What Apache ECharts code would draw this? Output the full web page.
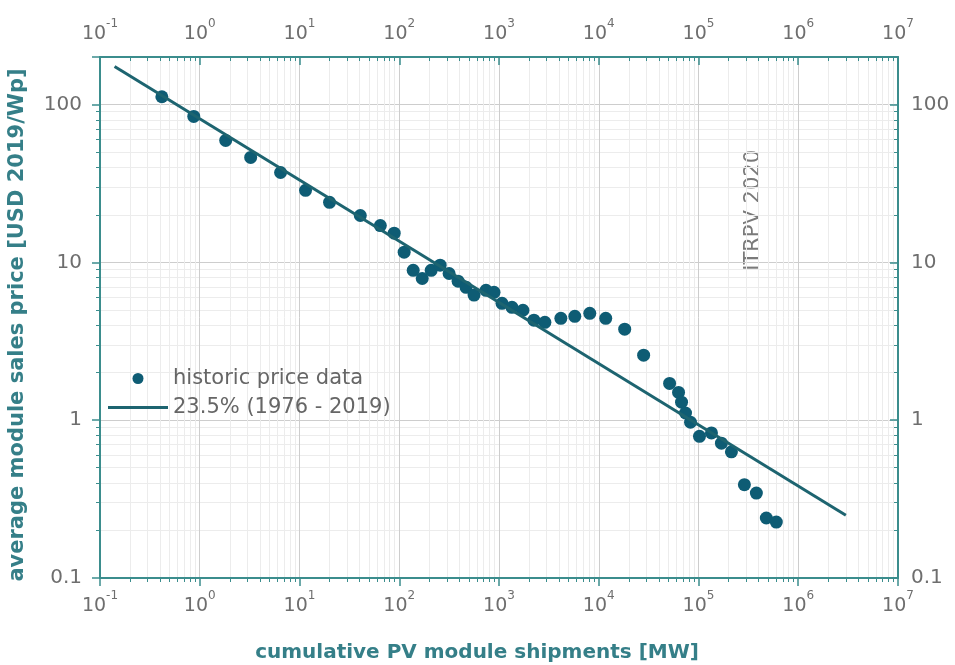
<!DOCTYPE html>
<html><head><meta charset="utf-8">
<script src="https://cdn.jsdelivr.net/npm/echarts@6/dist/echarts.min.js"></script>
<style>html,body{margin:0;padding:0;background:#fff}#c{width:955px;height:665px}</style>
</head><body><div id="c"></div>
<script>
// cumulative PV module shipments [MW]
const shipmentsMW = [0.417, 0.871, 1.82, 3.24, 6.46, 11.5, 20.0, 40.7, 64.6, 89, 112, 138, 170, 209, 257, 316, 389, 468, 562, 741, 891, 1072, 1349, 1738, 2239, 2884, 4169, 5754, 8128, 11750, 18200, 28180, 51300, 63100, 67600, 74100, 83200, 102300, 134900, 169800, 213800, 288400, 380200, 478600, 602600];
// average module sales price [USD 2019/Wp]
const priceUSD = [112, 84, 59.2, 46.2, 37.1, 28.6, 24.0, 19.8, 17.1, 15.3, 11.6, 8.9, 7.9, 8.9, 9.6, 8.5, 7.6, 6.95, 6.2, 6.65, 6.46, 5.5, 5.19, 4.97, 4.3, 4.17, 4.42, 4.55, 4.75, 4.42, 3.77, 2.58, 1.71, 1.50, 1.30, 1.11, 0.97, 0.79, 0.83, 0.715, 0.63, 0.39, 0.345, 0.24, 0.226];
// learning curve fit endpoints
const fitShipmentsMW = [0.14, 3.0e6];
const fitPrice = [174, 0.25];
const seriesNames = ['historic price data', '23.5% (1976 - 2019)'];
const xTickExponents = [-1, 0, 1, 2, 3, 4, 5, 6, 7];
const yTickLabels = ['0.1', '1', '10', '100'];
const xRange = [0.1, 1e7];
const yRange = [0.1, 200];

const FONT = 'DejaVu Sans';
const TEAL = '#3b8d8d';
const LABEL = '#6e6e6e';
const TITLE = '#357f88';
const DOT = '#0e5c74';
const FITLINE = '#1d6470';

function isDecade(v) { const l = Math.log10(v); return Math.abs(l - Math.round(l)) < 1e-6; }
function xFmt(v) {
  if (!isDecade(v)) return '';
  const e = Math.round(Math.log10(v));
  if (xTickExponents.indexOf(e) < 0) return '';
  return '{b|10}{s|' + e + '}';
}
function yFmt(v) {
  if (!isDecade(v)) return '';
  const s = String(+v.toPrecision(6));
  return yTickLabels.indexOf(s) >= 0 ? s : '';
}
const xRich = {
  b: { fontSize: 19, fontFamily: FONT, color: LABEL, padding: [7, 0, 0, 0] },
  s: { fontSize: 12, fontFamily: FONT, color: LABEL, verticalAlign: 'top' }
};

function xAxisCfg(pos) {
  const top = pos === 'top';
  return {
    type: 'log', logBase: 10, min: xRange[0], max: xRange[1], position: pos,
    name: top ? '' : 'cumulative PV module shipments [MW]',
    nameLocation: 'middle', nameGap: 65,
    nameTextStyle: { fontFamily: FONT, fontSize: 20, fontWeight: 'bold', color: TITLE, padding: [0, 44, 0, 0] },
    axisLine: { show: true, onZero: false, lineStyle: { color: TEAL, width: 2 } },
    axisTick: { show: true, inside: top, length: 8, lineStyle: { color: TEAL, width: 1.5 } },
    minorTick: { show: true, splitNumber: 9, length: 4, lineStyle: { color: TEAL, width: 1 } },
    axisLabel: { show: true, margin: top ? 13 : 12, formatter: xFmt, rich: xRich },
    splitLine: { show: !top, lineStyle: { color: '#cdcdcd', width: 1 } },
    minorSplitLine: { show: !top, lineStyle: { color: '#ececec', width: 1 } }
  };
}
function yAxisCfg(pos) {
  const right = pos === 'right';
  return {
    type: 'log', logBase: 10, min: yRange[0], max: yRange[1], position: pos,
    name: right ? '' : 'average module sales price [USD 2019/Wp]',
    nameLocation: 'middle', nameGap: 72,
    nameTextStyle: { fontFamily: FONT, fontSize: 21, fontWeight: 'bold', color: TITLE, padding: [0, 15, 0, 0] },
    axisLine: { show: true, onZero: false, lineStyle: { color: TEAL, width: 2 } },
    axisTick: { show: true, inside: right, length: 8, lineStyle: { color: TEAL, width: 1.5 } },
    minorTick: { show: true, splitNumber: 9, length: 4, lineStyle: { color: TEAL, width: 1 } },
    axisLabel: { show: true, margin: right ? 13 : 18, formatter: yFmt, fontFamily: FONT, fontSize: 20, color: LABEL },
    splitLine: { show: !right, lineStyle: { color: '#cdcdcd', width: 1 } },
    minorSplitLine: { show: !right, lineStyle: { color: '#ececec', width: 1 } }
  };
}

const chart = echarts.init(document.getElementById('c'));
chart.setOption({
  animation: false,
  backgroundColor: '#fff',
  grid: { left: 100, right: 57, top: 57, bottom: 87, containLabel: false, outerBoundsMode: 'none' },
  xAxis: [xAxisCfg('bottom'), xAxisCfg('top')],
  yAxis: [yAxisCfg('left'), yAxisCfg('right')],
  legend: {
    data: [
      { name: seriesNames[0], icon: 'circle' },
      { name: seriesNames[1], icon: 'path://M0,0h60v3h-60z' }
    ],
    orient: 'vertical', left: 103, top: 363,
    itemWidth: 60, itemHeight: 11, itemGap: 8, symbolKeepAspect: true,
    textStyle: { fontFamily: FONT, fontSize: 21, color: '#666' }
  },
  graphic: [{
    type: 'text', left: 743, top: 150, rotation: Math.PI / 2,
    style: { text: 'ITRPV 2020', font: '21px "DejaVu Sans"', fill: '#7a7a7a' }
  }],
  series: [
    {
      name: seriesNames[0], type: 'scatter', xAxisIndex: 0, yAxisIndex: 0,
      symbol: 'circle', symbolSize: 13, itemStyle: { color: DOT, opacity: 1 },
      data: shipmentsMW.map((x, i) => [x, priceUSD[i]]), z: 3
    },
    {
      name: seriesNames[1], type: 'line', xAxisIndex: 0, yAxisIndex: 0,
      symbol: 'none', showSymbol: false, lineStyle: { color: FITLINE, width: 3 },
      itemStyle: { color: FITLINE },
      data: fitShipmentsMW.map((x, i) => [x, fitPrice[i]]), z: 4
    }
  ]
});
</script></body></html>
